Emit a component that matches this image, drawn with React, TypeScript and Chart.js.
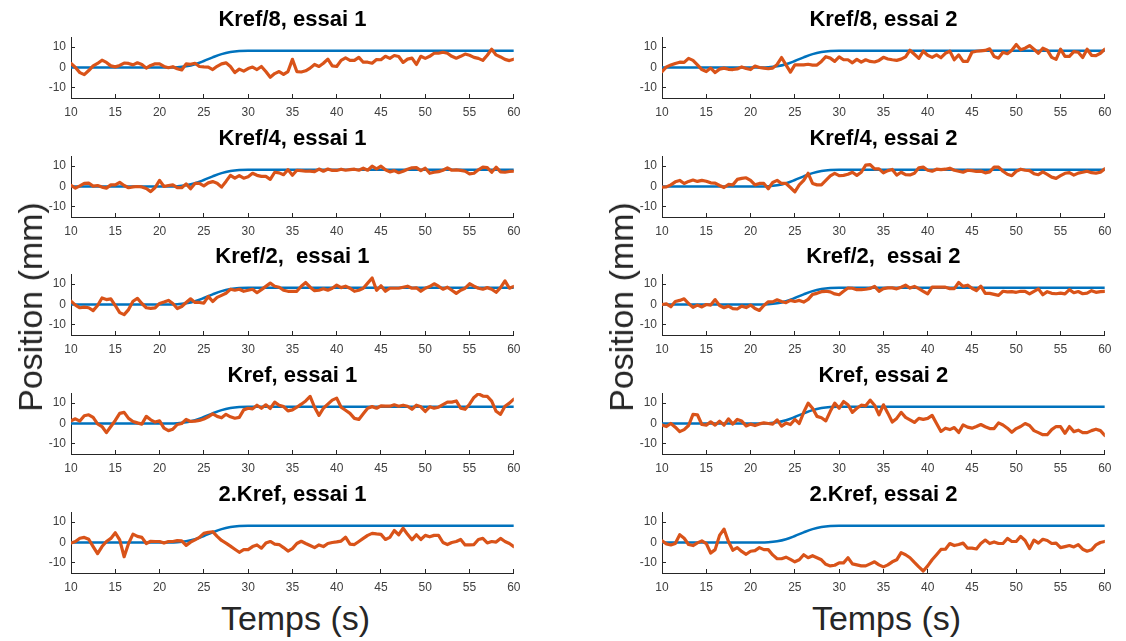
import React, { useEffect, useRef } from "react";
import { Chart, registerables } from "chart.js";

Chart.register(...registerables);

// ---------- data ----------
const TIME = [
  10, 10.5, 11, 11.5, 12, 12.5, 13, 13.5, 14, 14.5,
  15, 15.5, 16, 16.5, 17, 17.5, 18, 18.5, 19, 19.5,
  20, 20.5, 21, 21.5, 22, 22.5, 23, 23.5, 24, 24.5,
  25, 25.5, 26, 26.5, 27, 27.5, 28, 28.5, 29, 29.5,
  30, 30.5, 31, 31.5, 32, 32.5, 33, 33.5, 34, 34.5,
  35, 35.5, 36, 36.5, 37, 37.5, 38, 38.5, 39, 39.5,
  40, 40.5, 41, 41.5, 42, 42.5, 43, 43.5, 44, 44.5,
  45, 45.5, 46, 46.5, 47, 47.5, 48, 48.5, 49, 49.5,
  50, 50.5, 51, 51.5, 52, 52.5, 53, 53.5, 54, 54.5,
  55, 55.5, 56, 56.5, 57, 57.5, 58, 58.5, 59, 59.5,
  60,
];

// reference trajectory (blue)
const REF_T = [10, 21, 22, 23, 24, 25, 26, 27, 28, 29, 30, 60];
const REF_Y = [0, 0, 0.1, 0.6, 1.6, 3.2, 5.0, 6.6, 7.6, 8.1, 8.2, 8.2];

// measured positions (orange)
const KREF8_E1 = [
  2, 0, -2.5, -3.5, -1.5, 0.8, 2, 3.6, 2.5, 0.8,
  0.3, 1, 2.2, 2, 1.3, 2.3, 1.5, -0.3, 1, 1.8,
  1.8, 0.5, -0.1, 0.4, -0.6, -1.2, 1.8, 1.6, 2.1, 0.5,
  0.3, 0.2, -1, 0.6, 1.8, 2.3, 0.5, -2.5, -0.8, -1.8,
  -0.5, 0.2, -1, 0.5, -2, -4.8, -3, -2, -3.4, -2,
  4, -2, -2.2, -1.6, -0.3, 1.5, 0.5, 2.1, 4.1, 0.8,
  0.5, 3.5, 4.7, 3.5, 3.5, 5, 2.6, 2.6, 2.1, 3.9,
  3.8, 5.5, 4.5, 5.9, 5.4, 2.5, 4.1, 4.6, 1.5, 5.5,
  4.5, 5.5, 7, 7, 7.5, 7, 5.5, 4.6, 5.5, 6.6,
  6, 5, 4.5, 3.5, 6, 9, 6.2, 5.2, 4, 3.4,
  4.1,
];
const KREF8_E2 = [
  -2, 0.3, 1.2, 2, 2.6, 2.5, 4.5, 3.5, 1.3, -1,
  -2, -0.3, -2.5, -0.8, -0.3, -0.9, -1, -0.7, 0.3, -0.5,
  -1, 0.7, 0, -0.3, -0.6, -0.3, 1.5, 4.9, 1.3, -2.3,
  1.3, 1.3, 1.3, 1.6, 1.2, 1.2, 3, 5.3, 4.6, 3,
  5.2, 3.8, 3.8, 2.3, 4, 2.6, 3.8, 3, 2.7, 3.5,
  5, 4.2, 3.8, 3.5, 4.1, 5.2, 8.5, 6.5, 4.5, 8,
  6, 5, 6.2, 4.8, 7, 8, 3.8, 6.2, 3, 3,
  7.5, 8, 8.2, 8.4, 9.2, 5.4, 4.6, 7.5, 6.8, 8.5,
  11.3, 8.7, 9.5, 10.8, 9, 7, 9.5, 8.5, 5, 4,
  9, 5.5, 5.5, 7.8, 7.5, 4.9, 9, 6, 5.8, 7,
  9,
];
const KREF4_E1 = [
  0.5, -0.8, 0.3, 1.5, 1.7, 0.2, 0.5, -0.3, -0.8, 0.8,
  0.8, 2, 0.5, -0.6, -0.2, 0, -0.2, -1, -2.5, -0.5,
  3, 0, 0.5, 0.8, -0.6, -0.6, 1.3, -1.1, 1.5, 1.5,
  0.3, 1.8, 2.4, 1.6, -0.3, 2.5, 5.5, 4.1, 5.4, 4.1,
  4.8, 6.5, 5.5, 5, 5, 3.5, 7, 6.7, 5.8, 8.3,
  5.5, 8, 7.8, 7.5, 7.6, 7.3, 8.6, 7.5, 8.6, 7.9,
  7.9, 8.5, 8, 8.3, 8.5, 8, 9, 8, 10, 8.7,
  10, 8.2, 7.2, 7.8, 6.8, 7.5, 8.5, 9.2, 9.3, 7.8,
  9, 6.5, 7, 7.3, 8, 9.2, 8, 8.2, 7.9, 7.5,
  6.2, 6.5, 8.2, 9.5, 9.3, 7, 9.5, 7.2, 7, 7.4,
  7.5,
];
const KREF4_E2 = [
  -0.3, -0.2, 0.8, 2.3, 3, 1.5, 2.5, 3.2, 2.5, 3,
  2.6, 1.8, 1.7, 0.5, -0.5, 1, 0.8, 3.5, 4, 4.3,
  3, 0.8, 1.5, 1.5, -1.1, 2, 3, 1.5, 1.5, -0.5,
  -2.6, 0.8, 3, 6.5, 1.5, 0.8, 0.8, 3, 5.2, 6.5,
  5.3, 5.5, 6, 7, 5.5, 7, 10.5, 10.8, 8.7, 8.7,
  6.7, 7.8, 8.4, 5.6, 7, 5.8, 5.7, 6.5, 9.2, 9.5,
  8, 7.5, 8.5, 8.3, 8.5, 9, 8, 7.5, 7, 8,
  7.8, 7.4, 7.6, 6.7, 7.2, 9.5, 9.5, 7.5, 6, 5.3,
  7.5, 8.5, 8, 7.8, 6.3, 5.8, 7.2, 6, 4.6, 4,
  5.3, 6.5, 6.8, 5.6, 6.6, 7, 7.5, 6.8, 6.6, 7,
  8.7,
];
const KREF2_E1 = [
  1.6, -0.3, -1.6, -1.3, -1.6, -3, -0.5, 3.2, 2.4, 2.8,
  -0.5, -4, -5, -2.5, 1.6, 3, 0.5, -1.6, -1.9, -1.7,
  0.5, 1.2, 2, 0.5, -2, -1, 1, 2.8, 1, 1,
  0.7, 4, 1.5, 3.5, 4.5, 5.5, 7.5, 7, 7.5, 6.5,
  7, 7.5, 5.8, 7.3, 8.9, 10.5, 9, 8.5, 7, 6.5,
  6.5, 6.5, 9, 10.8, 8.5, 6.8, 7, 7.7, 7, 8,
  9.5, 8.3, 9, 8, 6.5, 7, 8, 10.5, 13, 7,
  9.2, 6.5, 8, 8, 8, 8.5, 9, 8, 8.2, 6.5,
  8, 8.8, 10.2, 9, 7.5, 8.5, 7, 5.5, 7, 8,
  10.2, 9, 8, 7.5, 8.3, 7.5, 6, 8.3, 11.6, 8,
  8.9,
];
const KREF2_E2 = [
  0, 0.3, -1.1, 1.5, 2, 2.8, 0.5, -1.4, -0.3, -1.2,
  0, -0.3, 2.4, -0.5, -1.6, -0.8, -2, -2.2, -0.8, -1.5,
  -0.3, -2, -2.9, -0.5, 1.3, 1.3, 2.3, 1.5, 0.9, 2,
  1.5, 2, 1.2, 2.5, 5, 5.5, 6.3, 6.5, 6.2, 5.2,
  4.8, 6.5, 8.1, 8, 7.3, 7.3, 7.5, 7.9, 8.9, 6.5,
  7.8, 8.2, 8.2, 7.7, 8.5, 9.5, 8.1, 8.9, 7.8, 6.5,
  5.2, 8.5, 8.5, 8.5, 8.5, 7.8, 7.8, 10.8, 8.9, 9.5,
  8, 6.8, 9, 5.5, 5.5, 5, 4.5, 6.5, 6.2, 6.3,
  6, 6.5, 6.5, 5.2, 6.5, 7.7, 4.8, 6.3, 5.5, 5.3,
  5.6, 5.2, 7.3, 5.8, 6.4, 5.3, 5.6, 6.8, 6, 6.3,
  6.5,
];
const KREF_E1 = [
  1.3, 2.3, 1.2, 3.8, 4.3, 3, -0.2, -1.5, -4.5, -1.5,
  1.5, 5, 5.5, 2.5, 1, 0.3, -0.3, 3.5, 1.8, 0.7,
  1.3, -2.3, -3.5, -2.8, -0.5, 0, 2, 1, 1.2, 1.5,
  2.2, 3.3, 4.7, 3.5, 2.8, 4.5, 3.3, 2.6, 3, 6.7,
  7.5, 7.2, 9, 7.5, 9.2, 7.4, 10.5, 9, 8.3, 6.2,
  6.7, 8, 9.5, 11.1, 13.3, 8, 4, 7.5, 9.5, 11.5,
  12.5, 8, 6.5, 5, 2.5, 2, 4.8, 7.5, 8.3, 7.5,
  8.7, 8.5, 8.5, 9.2, 8.5, 9, 8.5, 7, 9, 8.2,
  5.9, 8.2, 7.5, 8, 9.3, 10.5, 10.5, 11.1, 7.5, 7,
  9.5, 12.8, 14.6, 13.5, 13.3, 11, 6, 4.5, 8.5, 10,
  12,
];
const KREF_E2 = [
  -0.7, -1.5, 0, -1.8, -4, -3, -1, 4.5, 4.3, -0.5,
  -0.8, 0.8, -0.8, 1.2, -0.8, 2.3, -0.3, 2, 1.2, -1.2,
  -0.3, -1, -0.2, 0.3, 0, -0.3, 1.8, -1.3, 0.2, -0.5,
  2, 0, 5.5, 10, 7.5, 3.5, 2.8, 1.3, 6, 10,
  7.5, 10.8, 9.2, 5.5, 7.5, 9, 8.7, 11.5, 9, 4.3,
  9.2, 5.1, 0.7, 2.5, 5.5, 3, 1.8, 0.5, 2.5, 2,
  2.5, 4, 0, -3.9, -2.3, -3, -2, -4.4, -0.7, -1.8,
  -2.3, -1.5, -0.5, -1.6, -2.5, -2.5, 0.3, -0.7, -2.3, -4.3,
  -2.5, -1.5, 0, -1, -3.5, -4.5, -5.5, -5.5, -3, -1.5,
  -1.5, -4.8, -1.5, -4, -3.3, -4.5, -4.5, -3.5, -2.8, -3.5,
  -5.9,
];
const KREF2X_E1 = [
  -0.3, 0.5, 2.1, 2.5, 1.6, -2, -5.5, -2, 0.5, 2,
  4.8, 1.3, -7, -0.5, 4.1, 3, 2.5, -0.5, 0.6, 0.5,
  0.5, -0.3, 0.5, 0.5, 0.9, 0.8, -1.4, 0.2, 1.3, 2.5,
  4.5, 5, 5.3, 3, 1, -0.3, -1.8, -3.3, -4.8, -3.5,
  -3.5, -2, -1.2, -2.8, -0.3, 0.5, -0.8, -1, -2.5, -4.2,
  -3, -0.5, 0.6, -0.5, -1.5, -2.5, -1.2, -2, -0.5, 0,
  0.3, 0.7, 2.6, -0.8, -1, 0.5, 2, 3.5, 4.5, 4.2,
  4, 1.5, 2.5, 5.9, 3.8, 7, 4, 1.3, 3.8, 1.5,
  3.5, 2.8, 3.5, 3.5, 0, -1, 0, 0.5, 1.5, -1.2,
  -1.2, -1, 1.5, 2, -0.2, 0.5, 0.2, 2, 0.5, -0.5,
  -2,
];
const KREF2X_E2 = [
  0.8, -0.7, -1.2, -0.5, 3.8, 2.1, -1, -1.5, -0.2, 0.8,
  -0.5, -5.2, -3.5, 3.5, 6.6, 0.5, -3.8, -2.5, -4.4, -5.8,
  -4.3, -4, -2.5, -3.5, -3.5, -6.1, -8, -8, -7.2, -8.3,
  -9.5, -8.5, -6, -7.5, -6.5, -7.5, -8.5, -10.7, -11.5, -11.2,
  -10, -10, -7.5, -10.5, -11, -11.5, -11.5, -10.5, -9.5, -11,
  -12, -11, -9.5, -8.5, -5, -6, -7.5, -9.8, -12, -14,
  -11.5, -8.5, -6, -3.4, -3.3, -0.5, -1.5, -1, -0.3, -2.8,
  -2.8, -3.2, -0.5, 1.2, -0.5, 0.3, -0.5, -0.5, 2, 0.5,
  0.5, 3, 1, -3, 1.2, -0.3, 1.6, 1, -0.5, -0.3,
  -2.5, -2, -1.5, -2.2, -1, -3.3, -4.3, -3.6, -1.2, 0,
  0.5,
];

const TITLES = [
  "Kref/8, essai 1", "Kref/8, essai 2",
  "Kref/4, essai 1", "Kref/4, essai 2",
  "Kref/2,  essai 1", "Kref/2,  essai 2",
  "Kref, essai 1", "Kref, essai 2",
  "2.Kref, essai 1", "2.Kref, essai 2",
];
const SERIES = [
  KREF8_E1, KREF8_E2,
  KREF4_E1, KREF4_E2,
  KREF2_E1, KREF2_E2,
  KREF_E1, KREF_E2,
  KREF2X_E1, KREF2X_E2,
];
const X_MIN = 10;
const X_MAX = 60;
const X_STEP = 5;
const Y_MIN = -15;
const Y_MAX = 15;
const Y_TICKS = [-10, 0, 10];
const X_LABEL = "Temps (s)";
const Y_LABEL = "Position (mm)";

// ---------- layout / style ----------
const FONT = "'Liberation Sans', Arial, Helvetica, sans-serif";
const BLUE = "#0072BD";
const ORANGE = "#D95319";
const AXIS_COLOR = "#262626";
const TICK_COLOR = "#404040";
const COL_LEFT = [71, 662];
const ROW_TOP = [37, 156, 274, 393, 512];
const PLOT_W = 449;
const PLOT_H = 61;
const YW = 71;
const RIGHT_PAD = 12;
const TITLE_H = 30;
const XH = 24;
const CW = YW + PLOT_W + RIGHT_PAD;
const CH = TITLE_H + PLOT_H + XH;

type PanelProps = { title: string; values: number[]; left: number; top: number };

function Panel({ title, values, left, top }: PanelProps) {
  const ref = useRef<HTMLCanvasElement | null>(null);
  useEffect(() => {
    if (!ref.current) return;
    const axisGrid = {
      drawOnChartArea: false,
      drawTicks: true,
      tickLength: -4,
      color: AXIS_COLOR,
      lineWidth: 1,
    };
    const axisBorder = { display: true, color: AXIS_COLOR, width: 1 };
    const tickFont = { family: FONT, size: 12 };
    const chart = new Chart(ref.current, {
      type: "line",
      data: {
        datasets: [
          {
            data: TIME.map((t, i) => ({ x: t, y: values[i] })),
            borderColor: ORANGE,
            borderWidth: 3.2,
            pointRadius: 0,
            tension: 0,
            borderJoinStyle: "round",
            borderCapStyle: "round",
            order: 0,
          },
          {
            data: REF_T.map((t, i) => ({ x: t, y: REF_Y[i] })),
            borderColor: BLUE,
            borderWidth: 2.5,
            pointRadius: 0,
            cubicInterpolationMode: "monotone",
            order: 1,
          },
        ],
      },
      options: {
        animation: false,
        responsive: false,
        maintainAspectRatio: false,
        devicePixelRatio: 1,
        events: [],
        layout: { padding: { left: 0, right: RIGHT_PAD, top: 0, bottom: 0 } },
        plugins: {
          legend: { display: false },
          tooltip: { enabled: false },
          title: {
            display: true,
            fullSize: false,
            text: title,
            color: "#000",
            font: { family: FONT, size: 22, weight: "bold", lineHeight: "26px" },
            padding: { top: 0, bottom: 4 },
          },
        },
        scales: {
          x: {
            type: "linear",
            position: "bottom",
            min: X_MIN,
            max: X_MAX,
            ticks: {
              stepSize: X_STEP,
              autoSkip: false,
              maxRotation: 0,
              padding: 11.5,
              color: TICK_COLOR,
              font: tickFont,
            },
            grid: axisGrid,
            border: axisBorder,
            afterFit: (s: any) => {
              s.height = XH;
            },
          },
          y: {
            type: "linear",
            min: Y_MIN,
            max: Y_MAX,
            afterBuildTicks: (s: any) => {
              s.ticks = Y_TICKS.map((v) => ({ value: v }));
            },
            ticks: { padding: 9, color: TICK_COLOR, font: tickFont },
            grid: axisGrid,
            border: axisBorder,
            afterFit: (s: any) => {
              s.width = YW;
            },
          },
        },
      },
    } as any);
    return () => chart.destroy();
  }, [title, values]);
  return (
    <canvas
      ref={ref}
      width={CW}
      height={CH}
      style={{ position: "absolute", left: left - YW, top: top - TITLE_H, width: CW, height: CH }}
    />
  );
}

const labelStyle: React.CSSProperties = {
  position: "absolute",
  fontFamily: FONT,
  fontSize: 34,
  lineHeight: "34px",
  color: AXIS_COLOR,
  whiteSpace: "nowrap",
};

export default function App() {
  return (
    <div
      style={{
        position: "absolute",
        left: 0,
        top: 0,
        width: 1126,
        height: 641,
        background: "#fff",
        overflow: "hidden",
      }}
    >
      {SERIES.map((vals, i) => (
        <Panel
          key={i}
          title={TITLES[i]}
          values={vals}
          left={COL_LEFT[i % 2]}
          top={ROW_TOP[Math.floor(i / 2)]}
        />
      ))}
      {COL_LEFT.map((l, c) => (
        <React.Fragment key={c}>
          <div
            style={{
              ...labelStyle,
              left: l - 41,
              top: 307,
              transform: "translate(-50%, -50%) rotate(-90deg)",
            }}
          >
            {Y_LABEL}
          </div>
          <div
            style={{
              ...labelStyle,
              left: l + PLOT_W / 2,
              top: 618,
              transform: "translate(-50%, -50%)",
            }}
          >
            {X_LABEL}
          </div>
        </React.Fragment>
      ))}
    </div>
  );
}
